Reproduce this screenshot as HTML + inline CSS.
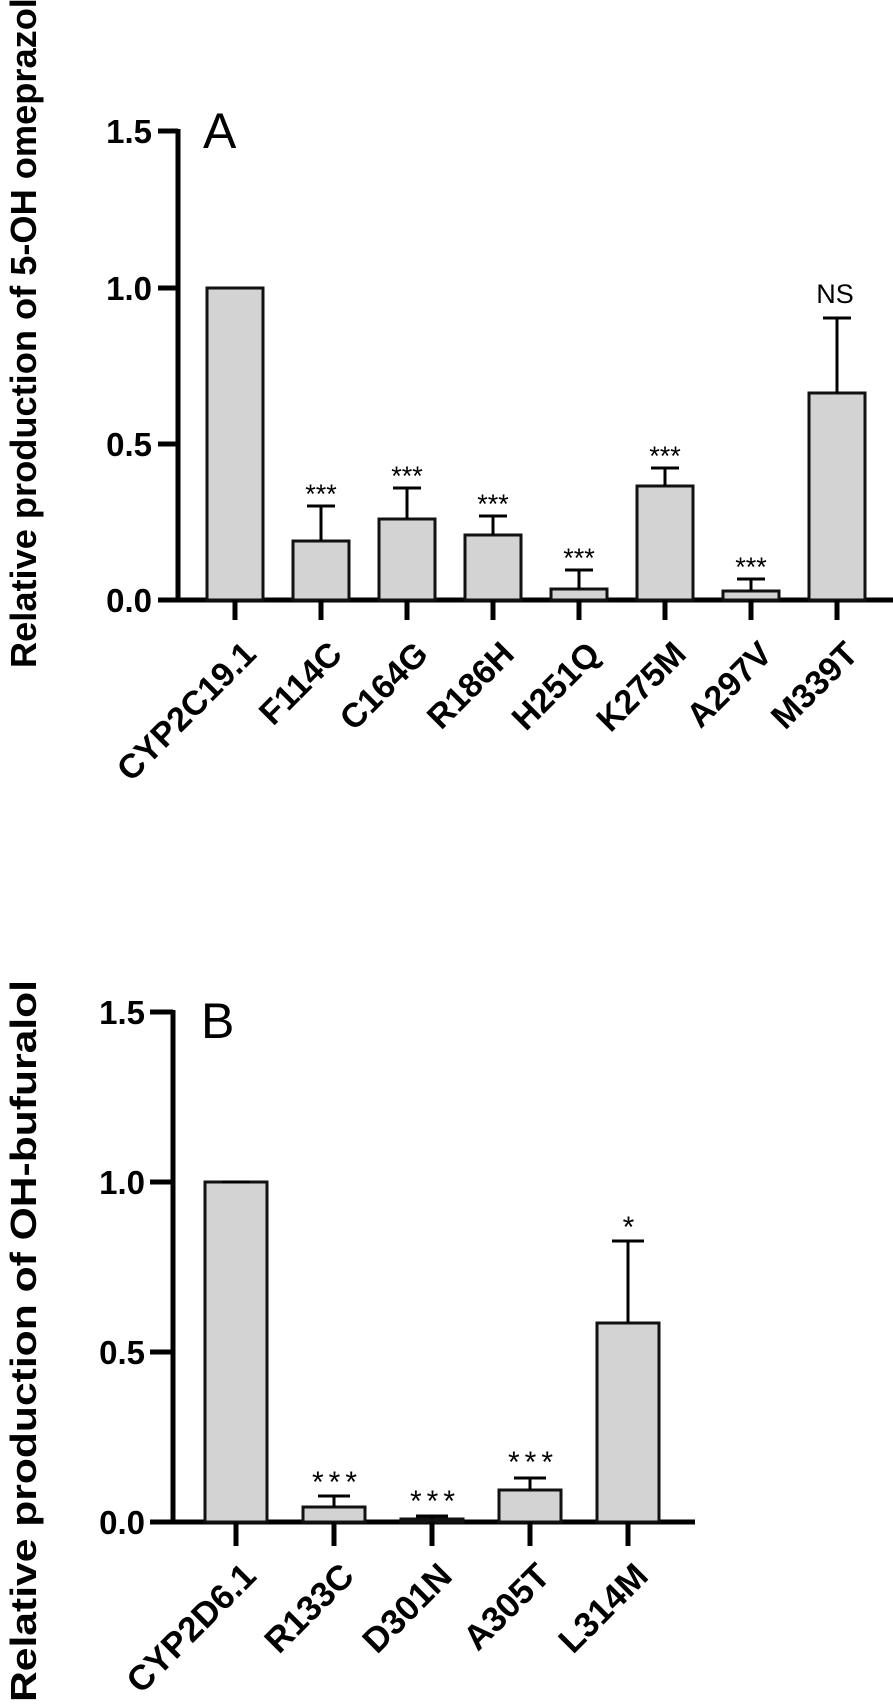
<!DOCTYPE html>
<html><head><meta charset="utf-8"><style>html,body{margin:0;padding:0;background:#fff}svg{display:block}</style></head>
<body>
<svg width="893" height="1704" viewBox="0 0 893 1704" xmlns="http://www.w3.org/2000/svg" font-family="Liberation Sans, Arial, sans-serif">
<rect width="893" height="1704" fill="#fff"/>
<!-- Panel A -->
<text transform="translate(36,668) rotate(-90)" font-size="36" font-weight="bold" textLength="690" lengthAdjust="spacingAndGlyphs">Relative production of 5-OH omeprazole</text>
<text x="203" y="148" font-size="50">A</text>
<g stroke="#000" stroke-width="5" fill="none">
<line x1="178" y1="129" x2="178" y2="602"/>
<line x1="158" y1="600" x2="893" y2="600"/>
<line x1="158" y1="131" x2="178" y2="131"/>
<line x1="158" y1="288" x2="178" y2="288"/>
<line x1="158" y1="444" x2="178" y2="444"/>
</g>
<g font-size="33" font-weight="bold" text-anchor="end">
<text x="152" y="143">1.5</text><text x="152" y="300">1.0</text><text x="152" y="456">0.5</text><text x="152" y="612">0.0</text>
</g>
<g fill="#d3d3d3" stroke="#111" stroke-width="3">
<rect x="207" y="288" width="56" height="312"/>
<rect x="293" y="541" width="56" height="59"/>
<rect x="379" y="519" width="56" height="81"/>
<rect x="465" y="535" width="56" height="65"/>
<rect x="551" y="589" width="56" height="11"/>
<rect x="637" y="486" width="56" height="114"/>
<rect x="723" y="591" width="56" height="9"/>
<rect x="809" y="393" width="56" height="207"/>
</g>
<g stroke="#000" stroke-width="3">
<line x1="321" y1="541" x2="321" y2="506"/><line x1="307" y1="506" x2="335" y2="506"/>
<line x1="407" y1="519" x2="407" y2="488"/><line x1="393" y1="488" x2="421" y2="488"/>
<line x1="493" y1="535" x2="493" y2="516"/><line x1="479" y1="516" x2="507" y2="516"/>
<line x1="579" y1="589" x2="579" y2="570"/><line x1="565" y1="570" x2="593" y2="570"/>
<line x1="665" y1="486" x2="665" y2="468"/><line x1="651" y1="468" x2="679" y2="468"/>
<line x1="751" y1="591" x2="751" y2="579"/><line x1="737" y1="579" x2="765" y2="579"/>
<line x1="837" y1="393" x2="837" y2="318"/><line x1="823" y1="318" x2="851" y2="318"/>
</g>
<g stroke="#000" stroke-width="5">
<line x1="235" y1="600" x2="235" y2="620"/><line x1="321" y1="600" x2="321" y2="620"/><line x1="407" y1="600" x2="407" y2="620"/><line x1="493" y1="600" x2="493" y2="620"/><line x1="579" y1="600" x2="579" y2="620"/><line x1="665" y1="600" x2="665" y2="620"/><line x1="751" y1="600" x2="751" y2="620"/><line x1="837" y1="600" x2="837" y2="620"/>
</g>
<g font-size="27" text-anchor="middle">
<text x="321" y="503">***</text><text x="407" y="485">***</text><text x="493" y="513">***</text><text x="579" y="567">***</text><text x="665" y="465">***</text><text x="751" y="576">***</text>
</g>
<text x="835" y="303" font-size="27" text-anchor="middle">NS</text>
<g font-size="34" font-weight="bold" text-anchor="end">
<text transform="translate(258,656) rotate(-45)">CYP2C19.1</text>
<text transform="translate(344,656) rotate(-45)">F114C</text>
<text transform="translate(430,656) rotate(-45)">C164G</text>
<text transform="translate(516,656) rotate(-45)">R186H</text>
<text transform="translate(602,656) rotate(-45)">H251Q</text>
<text transform="translate(688,656) rotate(-45)">K275M</text>
<text transform="translate(774,656) rotate(-45)">A297V</text>
<text transform="translate(860,656) rotate(-45)">M339T</text>
</g>
<!-- Panel B -->
<text transform="translate(36,1702) rotate(-90)" font-size="36" font-weight="bold" textLength="722" lengthAdjust="spacingAndGlyphs">Relative production of OH-bufuralol</text>
<text x="201" y="1038" font-size="50">B</text>
<g stroke="#000" stroke-width="5" fill="none">
<line x1="173" y1="1010" x2="173" y2="1524"/>
<line x1="150" y1="1522" x2="695" y2="1522"/>
<line x1="150" y1="1012" x2="173" y2="1012"/>
<line x1="150" y1="1182" x2="173" y2="1182"/>
<line x1="150" y1="1352" x2="173" y2="1352"/>
</g>
<g font-size="33" font-weight="bold" text-anchor="end">
<text x="145" y="1024">1.5</text><text x="145" y="1194">1.0</text><text x="145" y="1364">0.5</text><text x="145" y="1534">0.0</text>
</g>
<g fill="#d3d3d3" stroke="#111" stroke-width="3">
<rect x="205" y="1182" width="62" height="340"/>
<rect x="303" y="1507" width="62" height="15"/>
<rect x="401" y="1519" width="62" height="3"/>
<rect x="499" y="1490" width="62" height="32"/>
<rect x="597" y="1323" width="62" height="199"/>
</g>
<g stroke="#000" stroke-width="3">
<line x1="222" y1="1182" x2="250" y2="1182"/>
<line x1="334" y1="1507" x2="334" y2="1496"/><line x1="318" y1="1496" x2="350" y2="1496"/>
<line x1="432" y1="1519" x2="432" y2="1516"/><line x1="416" y1="1516" x2="448" y2="1516"/>
<line x1="530" y1="1490" x2="530" y2="1478"/><line x1="514" y1="1478" x2="546" y2="1478"/>
<line x1="628" y1="1323" x2="628" y2="1241"/><line x1="612" y1="1241" x2="644" y2="1241"/>
</g>
<g stroke="#000" stroke-width="5">
<line x1="236" y1="1522" x2="236" y2="1546"/><line x1="334" y1="1522" x2="334" y2="1546"/><line x1="432" y1="1522" x2="432" y2="1546"/><line x1="530" y1="1522" x2="530" y2="1546"/><line x1="628" y1="1522" x2="628" y2="1546"/>
</g>
<g font-size="30" text-anchor="middle" letter-spacing="5">
<text x="337" y="1492">***</text><text x="435" y="1511">***</text><text x="533" y="1472">***</text><text x="631" y="1237">*</text>
</g>
<g font-size="35" font-weight="bold" text-anchor="end">
<text transform="translate(258,1578) rotate(-45)">CYP2D6.1</text>
<text transform="translate(356,1578) rotate(-45)">R133C</text>
<text transform="translate(454,1578) rotate(-45)">D301N</text>
<text transform="translate(552,1578) rotate(-45)">A305T</text>
<text transform="translate(650,1578) rotate(-45)">L314M</text>
</g>
</svg>
</body></html>
